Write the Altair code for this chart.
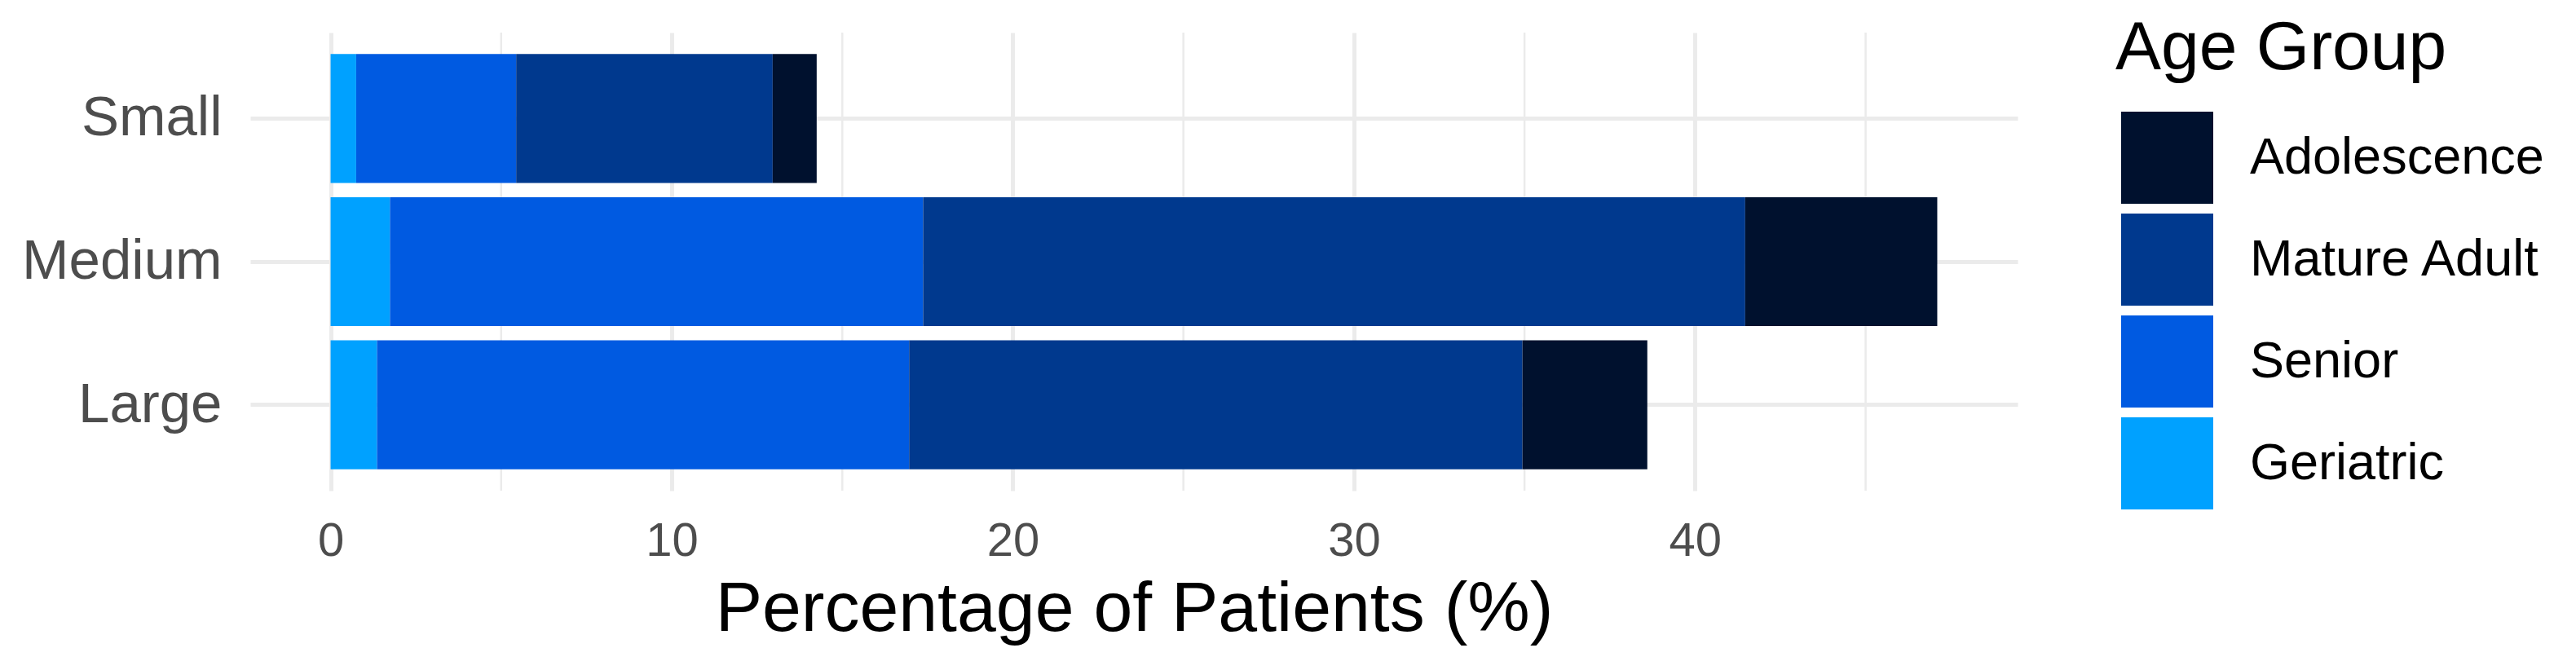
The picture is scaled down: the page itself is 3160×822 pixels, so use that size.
import altair as alt
import pandas as pd

# ---- data ----
sizes = ["Small", "Medium", "Large"]
groups_stack = ["Geriatric", "Senior", "Mature Adult", "Adolescence"]  # stacking order from 0
legend_order = ["Adolescence", "Mature Adult", "Senior", "Geriatric"]
colors = ["#00112E", "#00398E", "#005AE1", "#00A1FF"]  # matches legend_order

geriatric = [0.75, 1.74, 1.36]
senior = [4.69, 15.63, 15.60]
mature_adult = [7.52, 24.10, 17.98]
adolescence = [1.29, 5.63, 3.66]

x_ticks = [0, 10, 20, 30, 40]
x_minor = [5, 15, 25, 35, 45]

series = {
    "Geriatric": geriatric,
    "Senior": senior,
    "Mature Adult": mature_adult,
    "Adolescence": adolescence,
}
rows = []
for gi, g in enumerate(groups_stack):
    for si, s in enumerate(sizes):
        rows.append({"size": s, "group": g, "value": series[g][si], "ord": gi})
df = pd.DataFrame(rows)
minor_df = pd.DataFrame({"value": x_minor})

FONT = "Liberation Sans"
GRID = "#EBEBEB"

x_scale = alt.Scale(domain=[-2.355, 49.455], nice=False, zero=False)
x_axis = alt.Axis(
    values=x_ticks,
    title="Percentage of Patients (%)",
    titleFont=FONT,
    titleFontSize=86,
    titleFontWeight="normal",
    titleColor="#000000",
    titleBaseline="alphabetic",
    titleY=171,
    titleLimit=0,
    ticks=False,
    tickSize=0,
    domain=False,
    grid=True,
    gridColor=GRID,
    gridWidth=5,
    labelFont=FONT,
    labelFontSize=58,
    labelColor="#4D4D4D",
    labelPadding=33,
    labelLimit=0,
)

minor = alt.Chart(minor_df).mark_rule(color=GRID, strokeWidth=2.5).encode(
    x=alt.X("value:Q", scale=x_scale, axis=x_axis)
)

bars = alt.Chart(df).mark_bar(strokeWidth=0).encode(
    y=alt.Y(
        "size:N",
        sort=sizes,
        scale=alt.Scale(paddingInner=0.1, paddingOuter=0.15),
        axis=alt.Axis(
            title=None,
            ticks=False,
            tickSize=0,
            domain=False,
            grid=True,
            gridColor=GRID,
            gridWidth=5,
            bandPosition=0.5,
            labelFont=FONT,
            labelFontSize=69,
            labelColor="#4D4D4D",
            labelPadding=35,
            labelBaseline="middle",
            labelLimit=0,
        ),
    ),
    x=alt.X("value:Q", stack="zero", scale=x_scale, axis=x_axis),
    color=alt.Color(
        "group:N",
        scale=alt.Scale(domain=legend_order, range=colors),
        legend=alt.Legend(
            title="Age Group",
            orient="none",
            legendX=2288,
            legendY=-21,
            padding=0,
            titleFont=FONT,
            titleFontSize=84,
            titleFontWeight="normal",
            titleColor="#000000",
            titleBaseline="top",
            titlePadding=34,
            titleAnchor="start",
            titleLimit=0,
            labelFont=FONT,
            labelFontSize=63,
            labelColor="#000000",
            labelOffset=45,
            labelLimit=0,
            symbolType="square",
            symbolSize=12769,
            symbolStrokeWidth=0,
            symbolOpacity=1,
            symbolOffset=7,
            rowPadding=12,
        ),
    ),
    order=alt.Order("ord:Q", sort="ascending"),
)

chart = (
    alt.layer(minor, bars)
    .properties(
        width=2168,
        height=562,
        padding={"left": 299, "top": 32, "right": 670, "bottom": 200},
        autosize="none",
        background="white",
    )
    .configure_view(stroke=None)
)

chart.save("out.html", embed_options={"renderer": "svg", "actions": False})
